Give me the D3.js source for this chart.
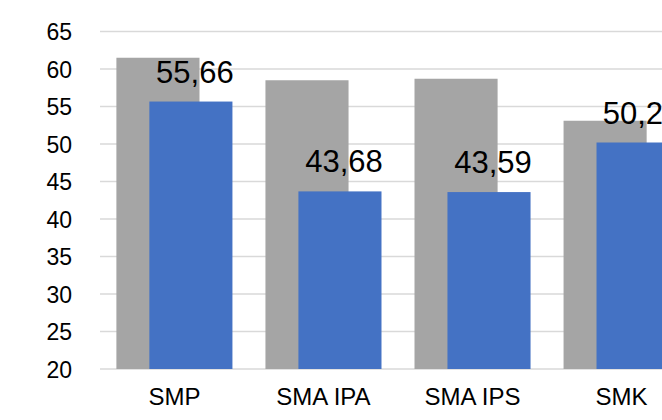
<!DOCTYPE html>
<html>
<head>
<meta charset="utf-8">
<script src="https://cdn.jsdelivr.net/npm/d3@7"></script>
<style>
  html, body { margin: 0; padding: 0; background: #fff; }
  svg { display: block; font-family: "Liberation Sans", Arial, sans-serif; }
</style>
</head>
<body>
<svg id="chart" width="662" height="420"></svg>
<script>
const categories = ["SMP", "SMA IPA", "SMA IPS", "SMK"];
const greyValues = [61.5, 58.5, 58.7, 53.1];
const blueValues = [55.66, 43.68, 43.59, 50.2];
const blueLabels = ["55,66", "43,68", "43,59", "50,2"];
const yTicks = [20, 25, 30, 35, 40, 45, 50, 55, 60, 65];

const W = 662, H = 420;
const svg = d3.select("#chart");
svg.append("rect").attr("width", W).attr("height", H).attr("fill", "#fff");

const x = d3.scaleBand().domain(categories).range([100, 696])
  .paddingInner(0.2215).paddingOuter(0.11);
const y = d3.scaleLinear().domain([20, 65]).range([369, 31.5]);
const barW = x.bandwidth() * 0.716;
const blueOff = x.bandwidth() - barW;

// gridlines
svg.append("g").selectAll("line").data(yTicks).join("line")
  .attr("x1", 100).attr("x2", 700)
  .attr("y1", d => y(d)).attr("y2", d => y(d))
  .attr("stroke", "#d9d9d9").attr("stroke-width", 1.5);

// y axis labels
const yAxis = d3.axisLeft(y).tickValues(yTicks).tickSize(0).tickPadding(0).tickFormat(d3.format("d"));
const gy = svg.append("g").attr("transform", "translate(72,0)").call(yAxis);
gy.select(".domain").remove();
gy.selectAll("text").attr("font-size", 23).attr("fill", "#000")
  .attr("font-family", "'Liberation Sans', Arial, sans-serif").attr("dy", "0.36em");

// grey bars
svg.append("g").selectAll("rect").data(categories).join("rect")
  .attr("x", d => x(d)).attr("width", barW)
  .attr("y", (d, i) => y(greyValues[i]))
  .attr("height", (d, i) => y(20) - y(greyValues[i]))
  .attr("fill", "#a5a5a5");

// blue bars
svg.append("g").selectAll("rect").data(categories).join("rect")
  .attr("x", d => x(d) + blueOff).attr("width", barW)
  .attr("y", (d, i) => y(blueValues[i]))
  .attr("height", (d, i) => y(20) - y(blueValues[i]))
  .attr("fill", "#4472c4");

// data labels
const labels = svg.append("g").selectAll("text").data(categories).join("text")
  .attr("x", d => x(d) + blueOff + barW / 2 + 4)
  .attr("y", (d, i) => y(blueValues[i]) - 19)
  .attr("text-anchor", "middle")
  .attr("font-size", 31).attr("fill", "#000")
  .text((d, i) => blueLabels[i]);
labels.each(function () {
  const len = this.getComputedTextLength();
  const cx = +this.getAttribute("x");
  const maxRight = 663;
  if (cx + len / 2 > maxRight) this.setAttribute("x", maxRight - len / 2);
});

// x axis labels
const xAxis = d3.axisBottom(x).tickSize(0).tickPadding(0);
const gx = svg.append("g").attr("transform", "translate(0,405)").call(xAxis);
gx.select(".domain").remove();
gx.selectAll("text").attr("font-size", 24).attr("fill", "#000")
  .attr("font-family", "'Liberation Sans', Arial, sans-serif").attr("dy", 0);
</script>
</body>
</html>
